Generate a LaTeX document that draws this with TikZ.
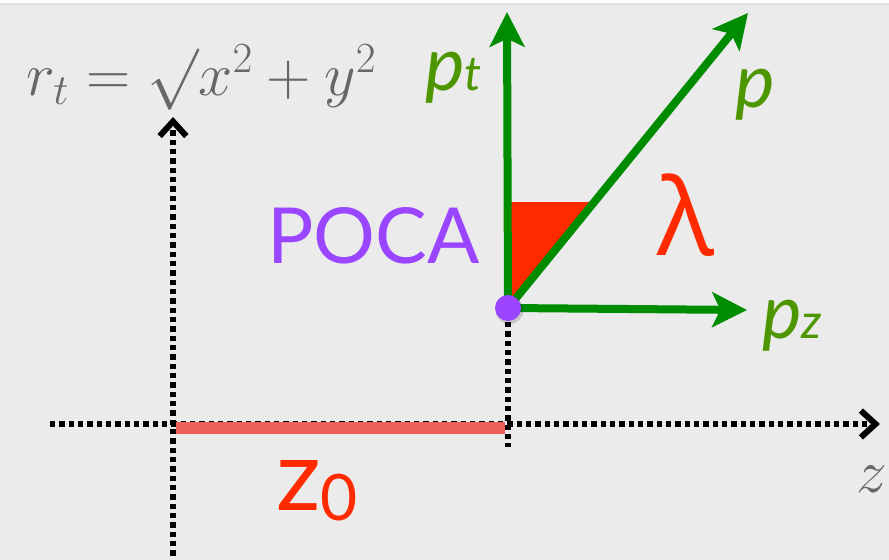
\RequirePackage{fix-cm}
\documentclass[tikz,border=0pt]{standalone}
\usepackage{fontspec}
\usetikzlibrary{arrows.meta,calc}
\newfontfamily\labelfont{Lato}
\newfontfamily\greekfont{Open Sans}
\definecolor{bggray}{HTML}{EBEBEB}
\definecolor{formulagray}{HTML}{676767}
\definecolor{arrowgreen}{HTML}{008C00}
\definecolor{labelgreen}{HTML}{4E9600}
\definecolor{pocapurple}{HTML}{9A45FF}
\definecolor{lamred}{HTML}{FF2A00}
\definecolor{zzred}{HTML}{EE605A}
\tikzset{
  dotline/.style={line width=4pt,dash pattern=on 4pt off 3pt},
  dotaxis/.style={dotline,-{Straight Barb[length=11pt,width=20pt,line width=4.5pt]}},
  momentum/.style={draw=arrowgreen,line width=6pt,-{Stealth[length=26pt,width=26pt,inset=6pt]}},
  greenlabel/.style={anchor=base west,text=labelgreen,inner sep=0pt},
}
\begin{document}
\begin{tikzpicture}[x=0.75pt,y=-0.75pt]
\useasboundingbox (0,0) rectangle (889,560);
\fill[bggray] (0,0) rectangle (889,560);
\fill[white] (0,0) rectangle (889,4);
\draw[black!12,line width=1pt] (0,4) -- (889,4);
% axes z and r_t
\coordinate (zstart) at (50,424); \coordinate (ztip) at (880,424);
\coordinate (rstart) at (173,565); \coordinate (rtip) at (173,117);
\coordinate (poca) at (508,308); \coordinate (pocafoot) at (508,447);
\draw[dotaxis] (zstart) -- (ztip);
\draw[dotaxis] (rstart) -- (rtip);
\draw[dotline] (508,322) -- (pocafoot);
% z0 segment
\draw[zzred,line width=9.5pt] (176,428) -- (505,428);
% momenta
\coordinate (pttip) at (507,12); \coordinate (ptip) at (748,13); \coordinate (pztip) at (747,310);
\coordinate (lamtop) at ($(poca)!0.359!(ptip)$);
\fill[lamred] (poca) -- (poca |- lamtop) -- (lamtop) -- cycle;
\draw[momentum] (poca) -- (pttip);
\draw[momentum] (poca) -- (ptip);
\draw[momentum] (poca) -- (pztip);
\fill[black,opacity=0.15] ($(poca)+(1.5,2)$) circle (10.5pt);
\node[circle,fill=pocapurple,minimum size=19.5pt,inner sep=0pt] (pocadot) at (poca) {};
% labels
\node[anchor=base west,inner sep=0pt,text=formulagray,font=\fontsize{46}{50}\selectfont] (formula) at (26,95) {$r_t = \surd x^2 + y^2$};
\node[greenlabel,font=\labelfont\itshape\fontsize{56}{60}\selectfont] (ptlabel) at (425,90) {p\fontsize{36}{40}\selectfont t};
\node[greenlabel,font=\labelfont\itshape\fontsize{56}{60}\selectfont] (plabel) at (735,108) {p};
\node[greenlabel,font=\labelfont\itshape\fontsize{56}{60}\selectfont] (pzlabel) at (762,338) {p\fontsize{36}{40}\selectfont z};
\node[anchor=base west,inner sep=0pt,text=pocapurple,font=\labelfont\fontsize{58}{60}\selectfont] (pocalabel) at (267,263) {POCA};
\node[anchor=base west,inner sep=0pt,text=lamred,font=\greekfont\fontsize{80}{80}\selectfont] (lamlabel) at (657,255) {λ};
\node[anchor=base west,inner sep=0pt,text=lamred,font=\labelfont\fontsize{74}{74}\selectfont] (zzlabel) at (276,510) {z\fontsize{48}{48}\selectfont\raisebox{-8pt}{0}};
\node[anchor=base west,inner sep=0pt,text=formulagray,font=\fontsize{46}{50}\selectfont] (zlabel) at (856,492) {$z$};
\end{tikzpicture}
\end{document}
